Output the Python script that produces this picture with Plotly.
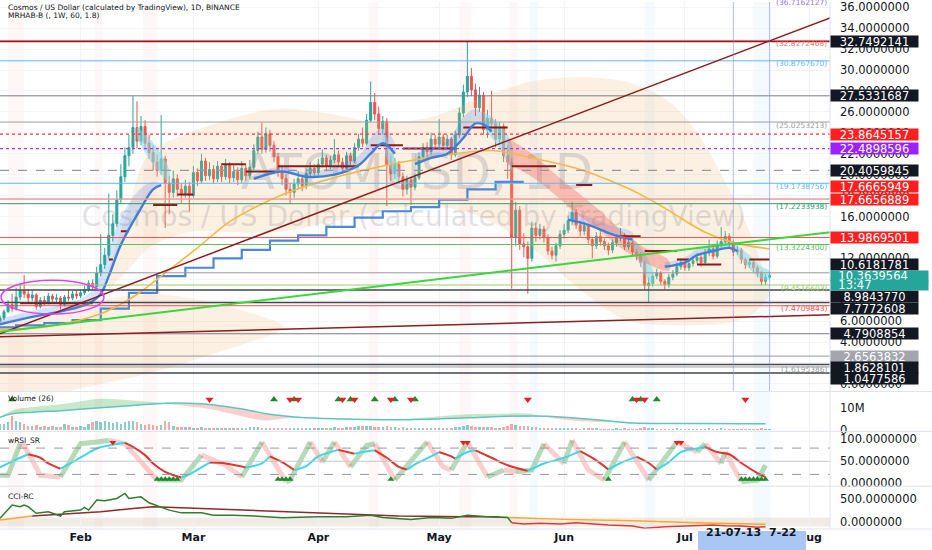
import pandas as pd
import plotly.graph_objects as go

FIRST_DAY = pd.Timestamp("2021-01-12")


def day(d):
    return FIRST_DAY + pd.Timedelta(days=d)


# ---------------------------------------------------------------- candles
# ATOM/USD 1D, 2021-01-12 .. 2021-07-22
first_open = 6.0
closes = [
    6.3, 6.9, 7.6, 7.2, 8.3, 8.9, 8.6, 8.2, 8.5, 7.4, 8.0, 7.8, 8.4, 8.1, 8.2, 7.6, 8.3, 8.2, 8.6, 8.4,
    8.7, 9.0, 9.6, 9.3, 10.6, 11.4, 12.3, 14.2, 15.3, 17.6, 19.8, 21.8, 22.6, 24.5, 23.2, 24.6, 23.0, 22.1,
    21.2, 20.4, 21.5, 19.2, 18.3, 19.6, 18.6, 18.2, 18.9, 18.0,
    20.2, 19.4, 21.3, 19.9, 20.5, 19.6, 20.8, 19.8, 20.9, 19.7, 20.3, 19.5, 20.6, 19.9, 20.7, 22.3, 23.6,
    22.4, 23.9, 22.8, 21.7, 20.2, 19.6, 18.6, 18.3, 19.1, 19.6, 18.9, 20.1, 20.6, 20.2,
    21.0, 21.6, 20.8, 21.4, 21.9, 21.2, 20.6, 21.8, 21.3, 22.6, 23.4, 23.0, 25.2, 26.9, 25.8, 24.4, 25.1,
    20.9, 20.1, 21.0, 19.8, 18.6, 19.5, 18.8, 19.7, 21.7, 22.6, 22.2, 23.4, 22.9,
    23.6, 22.8, 23.4, 21.9, 23.8, 25.9, 27.9, 29.4, 28.1, 26.4, 27.6, 24.3, 25.4, 24.9, 23.4, 24.6, 21.8,
    21.2, 14.0, 16.6, 13.4, 13.1, 12.0, 14.9, 14.2, 14.8, 14.0, 12.7, 12.3, 13.2, 14.3,
    14.7, 15.6, 16.4, 15.2, 14.6, 15.1, 13.8, 13.2, 14.1, 13.6, 13.2, 12.8, 13.5, 13.9, 14.2, 13.1, 13.5,
    12.6, 12.3, 11.6, 9.4, 9.6, 10.3, 10.6, 9.8, 9.5, 10.2, 10.5, 11.2, 11.6,
    11.1, 11.5, 11.8, 12.1, 11.6, 12.5, 12.9, 12.2, 13.3, 13.6, 14.1, 13.4, 12.6, 12.8, 11.9, 11.4, 11.6,
    11.1, 10.6, 9.8, 10.2, 10.3639564,
]
highs = [
    6.5, 7.1, 8.0, 8.6, 9.2, 9.6, 10.4, 9.0, 8.9, 8.7, 8.3, 8.4, 8.7, 8.6, 8.6, 8.4, 8.5, 9.0, 8.9, 8.9,
    9.0, 9.4, 9.9, 10.0, 11.2, 14.3, 13.0, 18.2, 16.2, 18.5, 21.0, 22.6, 23.8, 27.5, 27.0, 25.6, 25.2, 23.8,
    22.8, 21.9, 25.7, 21.8, 19.9, 20.4, 20.0, 19.2, 19.5, 19.3,
    20.8, 20.6, 22.0, 21.6, 21.2, 20.9, 21.3, 21.1, 21.5, 21.2, 20.9, 20.7, 21.3, 21.0, 21.4, 22.9, 24.1,
    25.0, 24.5, 24.3, 23.2, 22.1, 20.8, 20.0, 19.2, 19.6, 20.3, 20.0, 20.6, 21.2, 21.0,
    21.5, 22.4, 21.9, 21.8, 23.4, 22.3, 21.6, 22.2, 22.1, 23.0, 23.9, 24.5, 25.8, 28.9, 27.8, 26.5, 25.6,
    25.4, 21.8, 21.6, 21.3, 20.2, 19.9, 19.8, 20.1, 22.1, 23.0, 23.1, 24.0, 23.8,
    25.3, 23.9, 23.8, 23.6, 24.2, 26.4, 28.6, 32.75, 30.2, 28.7, 28.4, 27.9, 26.2, 28.0, 25.3, 25.0, 24.9,
    22.8, 21.6, 17.4, 17.0, 14.4, 13.6, 15.5, 15.4, 15.3, 15.1, 14.3, 13.1, 13.5, 14.7,
    15.3, 16.1, 17.4, 16.7, 15.6, 15.5, 15.3, 14.0, 14.5, 14.6, 13.9, 13.5, 13.8, 14.3, 14.9, 14.4, 13.9,
    13.7, 12.9, 12.6, 11.8, 10.2, 10.6, 11.0, 10.8, 10.0, 10.5, 10.9, 11.6, 12.0,
    11.9, 11.8, 12.2, 12.5, 12.3, 12.9, 13.8, 13.2, 13.7, 15.0, 14.6, 14.4, 13.7, 13.2, 13.0, 12.1, 11.9,
    11.8, 11.3, 10.8, 10.5, 10.6,
]
lows = [
    5.8, 6.1, 6.8, 6.9, 7.0, 8.0, 8.2, 7.8, 7.9, 7.1, 7.2, 7.5, 7.6, 7.8, 7.7, 7.1, 7.4, 7.9, 8.0, 8.1,
    8.2, 8.5, 8.8, 9.0, 9.2, 10.3, 11.0, 12.0, 13.6, 15.0, 17.2, 19.3, 20.8, 22.0, 22.5, 22.8, 22.4, 21.5,
    20.4, 19.8, 20.0, 14.9, 16.2, 17.8, 17.9, 17.3, 17.8, 16.5,
    17.8, 18.9, 19.1, 19.4, 19.5, 19.1, 19.3, 19.3, 19.5, 19.2, 19.3, 19.0, 19.2, 19.4, 19.6, 20.4, 22.0,
    22.0, 22.1, 22.2, 21.2, 19.8, 19.0, 18.0, 17.2, 17.8, 18.7, 18.4, 18.6, 19.8, 19.7,
    19.9, 20.7, 20.3, 20.5, 21.1, 20.8, 20.1, 20.4, 20.9, 21.1, 22.3, 22.6, 22.8, 25.0, 25.2, 23.9, 23.8,
    17.0, 19.4, 19.6, 19.2, 17.9, 18.1, 17.1, 18.5, 19.5, 21.3, 21.7, 21.9, 22.4,
    22.6, 22.3, 22.5, 21.4, 21.7, 23.5, 25.5, 27.4, 27.5, 25.6, 26.0, 23.8, 23.5, 24.2, 22.6, 22.9, 21.2,
    19.6, 9.1, 13.2, 12.8, 12.1, 8.6, 11.7, 13.6, 13.8, 13.5, 12.3, 11.9, 11.7, 12.9,
    13.9, 14.4, 15.2, 14.8, 14.1, 14.2, 13.4, 12.0, 12.9, 13.2, 12.8, 12.3, 12.5, 13.1, 13.6, 12.8, 12.8,
    12.2, 11.8, 11.2, 9.0, 7.78, 9.3, 10.0, 9.4, 9.0, 9.2, 9.9, 10.3, 10.9,
    10.8, 10.8, 11.2, 11.5, 11.2, 11.4, 12.2, 11.9, 12.0, 13.0, 13.3, 13.0, 12.2, 12.3, 11.5, 11.0, 11.1,
    10.7, 10.2, 9.4, 9.5, 10.0,
]
# volume in millions
volume_m = [
    2.7, 3.0, 3.5, 6.5, 4.2, 3.5, 3.0, 2.0, 1.8, 2.2, 1.5, 1.8, 1.6, 2.0, 1.4, 1.6, 2.7, 2.5, 1.6, 1.4,
    1.8, 1.5, 3.0, 3.5, 4.0, 3.8, 4.2, 3.6, 3.4, 3.5, 2.8, 3.6, 4.2, 4.0, 3.8, 3.0, 2.5, 2.7, 2.2, 2.0,
    2.4, 4.2, 3.5, 2.0, 1.5, 1.4, 1.6, 1.3,
    1.2, 1.0, 1.3, 0.9, 1.1, 0.8, 1.0, 0.9, 1.2, 0.8, 0.9, 1.0, 0.8, 0.9, 1.3, 1.5, 1.4, 1.2, 1.0, 0.9,
    1.1, 1.2, 1.0, 0.9, 0.8, 0.9, 1.0, 0.8, 0.9, 0.8, 0.9,
    0.9, 1.0, 0.8, 0.9, 1.5, 1.2, 1.1, 1.3, 1.5, 1.6, 1.8, 1.9, 1.7, 1.9, 1.6, 1.4, 1.3, 1.9, 1.5, 1.3,
    1.2, 1.4, 1.1, 1.0, 1.2, 1.1, 0.9, 1.0, 0.9, 1.1,
    1.0, 0.9, 0.8, 1.1, 1.3, 1.6, 1.9, 2.4, 1.8, 1.5, 1.3, 1.6, 1.4, 1.3, 1.1, 1.2, 1.5, 1.8, 2.7, 2.2,
    1.9, 1.7, 2.0, 1.6, 1.3, 1.0, 1.0, 1.1, 0.9, 0.8, 0.9,
    0.9, 1.0, 1.1, 0.8, 0.7, 0.8, 0.9, 1.0, 0.8, 0.7, 0.6, 0.6, 0.7, 0.8, 0.7, 0.8, 0.7, 0.6, 0.6, 0.9,
    1.3, 1.1, 0.8, 0.7, 0.6, 0.7, 0.6, 0.7, 0.8, 0.7,
    0.6, 0.6, 0.5, 0.6, 0.6, 0.7, 0.8, 0.6, 0.7, 0.9, 0.7, 0.6, 0.7, 0.6, 0.7, 0.6, 0.5, 0.6, 0.6, 0.8,
    0.7, 0.5,
]
countdown = "13:47"

# ---------------------------------------------------------------- overlays (day index from FIRST_DAY)
sma_days = [0, 12, 25, 33, 41, 49, 57, 65, 73, 81, 89, 100, 111, 122, 132, 143, 154, 160, 165, 170, 175, 182, 191]
sma_vals = [5.2, 5.5, 6.7, 8.3, 10.6, 13.0, 15.5, 17.2, 18.5, 19.5, 20.3, 21.2, 21.9, 22.3, 21.6, 20.6,
            19.0, 17.9, 16.8, 15.6, 14.5, 13.5, 12.9]

stair_days = [0, 4, 11, 18, 25, 32, 39, 46, 53, 60, 67, 74, 81, 88, 95, 102, 109, 116, 123, 130]
stair_vals = [5.4, 5.6, 5.8, 6.1, 7.2, 8.7, 10.3, 11.1, 12.0, 12.8, 13.7, 14.2, 15.0, 15.9, 16.5, 16.9,
              17.6, 18.6, 19.3, 19.3]

mrhab_days = [0, 8, 16, 22, 25, 27, 30, 35, 38, 40, None, 63, 70, 76, 83, 89, 92, 95, 98, None,
              103, 107, 111, 115, 118, 120, 122, None, 141, 146, 152, 157, None, 165, 170, 173, 177, 181, 183]
mrhab_line = [5.7, 6.4, 7.0, 7.7, 8.6, 10.3, 13.3, 16.8, 18.6, 19.0, None, 19.6, 20.3, 19.8, 20.0, 20.9,
              22.0, 23.0, 22.0, None, 21.0, 21.6, 22.0, 23.5, 24.9, 24.8, 24.1, None, 15.7, 15.2, 14.3,
              13.8, None, 11.2, 11.6, 12.3, 12.7, 13.0, 12.7]
mrhab_upper = [6.2, 7.0, 7.6, 8.6, 10.5, 12.8, 15.9, 18.7, 19.3, 19.1, None, 20.0, 20.8, 20.2, 20.8, 21.8,
               23.5, 24.5, 23.0, None, 22.0, 22.6, 23.2, 25.5, 26.3, 25.8, 24.6, None, 16.5, 16.0, 15.1,
               14.5, None, 11.6, 12.1, 12.9, 13.4, 13.6, 13.2]

fall_days = [34, 37, 40, 42, None, 95, 97, 99, None, 120, 124, 127, None, 157, 160, 162, None, 183, 186, 189, 191]
fall_hi = [24.5, 23.5, 22.0, 20.5, None, 24.5, 22.5, 20.5, None, 26.0, 24.8, 23.0, None, 14.0, 12.5, 10.8,
           None, 13.2, 12.3, 11.2, 10.8]
fall_lo = [23.5, 21.5, 20.0, 19.3, None, 23.0, 20.5, 19.0, None, 24.5, 22.5, 20.5, None, 13.0, 10.5, 9.5,
           None, 12.2, 11.0, 10.0, 10.0]

pink_days = [126, 132, 138, 143, 149, 154, 160, 166]
pink_lo = [21.0, 19.8, 18.0, 16.3, 14.6, 13.0, 11.6, 10.8]
pink_hi = [23.5, 22.0, 20.0, 18.4, 16.5, 14.7, 13.0, 11.8]

blob_days = [27, 32, 37, 47, 57, 69, 82, 94, 107, 119, 132, 144, 156, 166, 173, 180, 186, 189, 191]
blob_hi = [11.0, 17.0, 22.0, 24.0, 25.3, 26.3, 25.8, 25.0, 25.5, 27.3, 28.9, 29.3, 28.8, 27.0, 24.0, 19.3,
           14.6, 11.4, 9.0]
blob_lo = [9.0, 11.0, 13.0, 14.5, 14.5, 14.5, 15.5, 16.5, 17.0, 16.0, 13.0, 9.0, 6.0, 5.6, 5.6, 5.8, 6.5,
           7.5, 8.5]
blob2_days = [0, 12, 25, 37, 50, 62, 70]
blob2_hi = [6.0, 6.8, 8.0, 8.6, 8.0, 6.8, 5.6]
blob2_lo = [-1.0, -1.0, 0.0, 1.0, 2.5, 4.0, 5.2]

stop_start = [5, 27, 30, 38, 44, 55, 61, 69, 92, 100, 115, 127, 143, 154, 160, 168, 173, 186]
stop_end = [23, 28, 32, 44, 48, 61, 69, 89, 100, 113, 126, 138, 147, 159, 168, 171, 179, 191]
stop_level = [7.7, 11.9, 14.6, 17.1, 18.1, 21.0, 20.3, 20.8, 22.8, 22.5, 24.5, 20.8, 19.0, 14.1, 12.7,
              11.9, 11.4, 11.9]

# drawings
line_levels = [32.7492141, 27.5331687, 23.8645157, 22.4898596, 20.4059845, 17.6665949, 17.6656889,
               13.9869501, 10.6181781, 8.9843770, 7.7772608, 4.7908854, 2.6563832, 1.8628101, 1.0477586]
fib_levels = [32.8272468, 30.8767670, 25.0253213, 19.1738756, 17.2233938, 13.3224300, 9.4516603,
              7.4709843, 1.6195386]
fib_top = 36.7162127
trend_from_day = [0, 0, 0]
trend_to_day = [206, 206, 206]
trend_from = [4.79, 4.98, 4.50]
trend_to = [34.98, 14.50, 6.60]
ellipse_days = [0.25, 25.8]
ellipse_prices = [6.67, 9.9]
select_days = [182, 191]
red_strip_from = [2, 23.5, 35.5, 91.5, 114, 126.5]
red_strip_to = [6, 25.5, 39, 94, 117, 128.5]
blue_strip_from = [131.5, 160, 187]
blue_strip_to = [133.5, 162.5, 191.3]

# volume panel
volma_days = [0, 3, 8, 16, 25, 33, 41, 50, 54, 58, 62, 66, 70, 74, 83, 99, 116, 124, 132, 140, 148, 157, 170, 190]
volma_slow = [5.7, 7.3, 8.0, 8.8, 10.0, 11.0, 12.1, 11.8, 11.0, 10.0, 8.8, 7.3, 6.4, 5.7, 5.0, 4.5, 5.4,
              6.0, 6.2, 5.7, 4.5, 3.0, 2.8, 2.7]
volma_fast = [5.8, 8.8, 10.3, 11.8, 14.1, 13.3, 12.1, 10.0, 8.8, 7.0, 5.2, 4.2, 5.0, 5.7, 5.2, 4.8, 7.0,
              7.3, 7.0, 4.5, 3.5, 3.2, 2.9, 2.8]
vol_up_days = [3, 68, 73, 84, 87, 93, 98, 103, 157, 159, 163]
vol_dn_days = [52, 72, 74, 85, 88, 97, 102, 131, 158, 160, 185]

# wRSI_SR panel
rsi_slow_days = [0, 2, 5, 7, 10, 12, 15, 18, 21, 24, 27, 31, 33, 36, 38, 41, 45, 47, 50, 52, 56, 61, 65, 67,
                 70, 73, 76, 79, 84, 88, 90, 93, 96, 99, 101, 103, 107, 109, 112, 113, 116, 118, 122, 126,
                 131, 135, 140, 144, 148, 151, 154, 158, 161, 163, 166, 169, 173, 175, 178, 181, 184, 188, 190]
rsi_slow = [36, 45, 58, 66, 58, 45, 33, 48, 64, 79, 86, 92, 83, 64, 45, 26, 13, 20, 36, 47, 45, 36, 45, 61,
            48, 30, 39, 61, 76, 67, 71, 75, 58, 37, 31, 43, 61, 71, 61, 56, 71, 75, 58, 41, 28, 45, 58, 73,
            52, 31, 46, 60, 46, 31, 48, 71, 79, 83, 71, 66, 46, 23, 14]
rsi_fast_days = [0, 2, 5, 6, 10, 15, 20, 24, 27, 31, 39, 45, 50, 56, 60, 65, 71, 72, 77, 80, 83, 87, 91, 93,
                 98, 106, 110, 112, 116, 121, 125, 128, 132, 135, 140, 142, 146, 150, 155, 161, 168, 173,
                 175, 179, 180, 184, 188, 190]
rsi_fast = [18, 18, 90, 86, 18, 14, 90, 94, 98, 90, 7, 7, 64, 41, 14, 94, 3, 7, 94, 48, 94, 37, 86, 90, 7,
            94, 37, 30, 94, 14, 30, 26, 30, 90, 45, 98, 30, 7, 94, 7, 94, 71, 90, 45, 71, 3, 7, 41]
rsi_buy_days = [39, 40, 41, 42, 43, 44, 69, 70, 71, 72, 97, 151, 184, 185, 186, 187, 188, 189, 190]
rsi_sell_days = [28, 115, 116, 168, 169]

# CCI-RC panel
cci_days = [0, 3, 5, 6, 7, 9, 12, 14, 15, 16, 20, 21, 22, 24, 26, 29, 31, 32, 35, 37, 40, 42, 45, 50, 53,
            58, 63, 70, 79, 86, 92, 95, 102, 107, 112, 116, 121, 126, 127, 130, 134, 139, 143, 147, 151,
            157, 160, 165, 169, 174, 177, 180, 184, 188, 190]
cci_vals = [80, 370, 333, 370, 333, 190, 225, 150, 130, 225, 260, 319, 260, 478, 464, 515, 623, 515, 550,
            420, 333, 260, 200, 200, 150, 150, 130, 94, 116, 116, 150, 100, 58, 100, 80, 150, 116, 100,
            -15, -43, -29, -43, -15, -43, -65, -87, -137, -101, -87, -65, -65, -80, -87, -116, -101]
cci_slow_days = [0, 5, 8, 17, 25, 33, 38, 50, 66, 83, 99, 116, 124, 126, 140, 157, 173, 190]
cci_slow = [43, 101, 130, 174, 225, 297, 333, 297, 246, 188, 130, 116, 116, 101, 58, 29, -15, -51]

# ---------------------------------------------------------------- figure
dates = pd.date_range(FIRST_DAY, periods=len(closes), freq="D")
opens = [first_open] + closes[:-1]

H = 529.0  # plot height in px (550 - bottom margin)
MAIN = [1 - 391 / H, 1.0]
VOL = [1 - 431 / H, 1 - 392 / H]
RSI = [1 - 486 / H, 1 - 433 / H]
CCI = [0.0, 1 - 488 / H]

fig = go.Figure()


def add(trace):
    trace.update(hoverinfo="skip", showlegend=False)
    fig.add_trace(trace)


def polygon(xd, top, bot, color, yaxis="y", shape="linear"):
    xs = [day(d) for d in xd] + [day(d) for d in reversed(xd)]
    ys = list(top) + list(reversed(bot))
    add(go.Scatter(x=xs, y=ys, mode="lines", fill="toself", fillcolor=color,
                   line=dict(width=0, shape=shape), yaxis=yaxis))


def segments(days, *series):
    out, cur = [], []
    for row in zip(days, *series):
        if row[0] is None:
            if cur:
                out.append(cur)
            cur = []
        else:
            cur.append(row)
    if cur:
        out.append(cur)
    return [list(zip(*s)) for s in out]


def runs(n, state):
    out, cur, cur_state = [], [0], None
    for i in range(1, n):
        s = state(i)
        if cur_state is None or s == cur_state:
            cur.append(i)
        else:
            out.append((cur_state, cur))
            cur = [i - 1, i]
        cur_state = s
    out.append((cur_state, cur))
    return out


def two_colour_line(days, vals, state, col_true, col_false, width, yaxis, shape="linear"):
    for s, idx in runs(len(vals), state):
        add(go.Scatter(x=[day(days[i]) for i in idx], y=[vals[i] for i in idx], mode="lines",
                       line=dict(color=col_true if s else col_false, width=width, shape=shape),
                       yaxis=yaxis))


# background blobs
polygon(blob_days, blob_hi, blob_lo, "rgba(240,180,110,0.2)", shape="spline")
polygon(blob2_days, blob2_hi, blob2_lo, "rgba(240,180,110,0.2)", shape="spline")

# watermark
add(go.Scatter(x=[day(103.5), day(102.7)], y=[19.84, 15.74], mode="text",
               text=["ATOMUSD, 1D", "Cosmos / US Dollar (calculated by TradingView)"],
               textfont=dict(size=[50, 28], family="DejaVu Sans", color="rgba(120,123,134,0.24)"),
               yaxis="y"))

# MRHAB ribbons
for d, lo, hi in segments(mrhab_days, mrhab_line, mrhab_upper):
    polygon(d, hi, lo, "rgba(66,133,244,0.22)", shape="spline")
for d, hi, lo in segments(fall_days, fall_hi, fall_lo):
    polygon(d, hi, lo, "rgba(128,222,234,0.55)", shape="spline")
polygon(pink_days, pink_hi, pink_lo, "rgba(239,83,80,0.33)", shape="spline")

# blue staircase, SMA, stop line, MRHAB line
add(go.Scatter(x=[day(d) for d in stair_days], y=stair_vals, mode="lines",
               line=dict(color="#4a88d8", width=2.2, shape="hv"), yaxis="y"))
add(go.Scatter(x=[day(d) for d in sma_days], y=sma_vals, mode="lines",
               line=dict(color="#f5b942", width=1.6, shape="spline"), yaxis="y"))
sx, sy = [], []
for a, b, v in zip(stop_start, stop_end, stop_level):
    sx += [day(a), day(b), None]
    sy += [v, v, None]
add(go.Scatter(x=sx, y=sy, mode="lines", line=dict(color="#8b1a1a", width=2), yaxis="y"))
for d, lo, hi in segments(mrhab_days, mrhab_line, mrhab_upper):
    add(go.Scatter(x=[day(v) for v in d], y=lo, mode="lines",
                   line=dict(color="#3f7fd9", width=2.4, shape="spline"), yaxis="y"))

# candles
add(go.Candlestick(x=dates, open=opens, high=highs, low=lows, close=closes, whiskerwidth=0,
                   increasing=dict(line=dict(color="#26a69a", width=1), fillcolor="#26a69a"),
                   decreasing=dict(line=dict(color="#ef5350", width=1), fillcolor="#ef5350"),
                   yaxis="y"))

# ---- volume panel
for s, idx in runs(len(volma_days), lambda i: volma_fast[i] + volma_fast[i - 1] >= volma_slow[i] + volma_slow[i - 1]):
    polygon([volma_days[i] for i in idx], [volma_fast[i] for i in idx], [volma_slow[i] for i in idx],
            "rgba(76,175,80,0.30)" if s else "rgba(239,83,80,0.28)", yaxis="y2", shape="spline")
add(go.Scatter(x=[day(d) for d in volma_days], y=volma_slow, mode="lines",
               line=dict(color="#5cc7bd", width=1.5, shape="spline"), yaxis="y2"))
bar_cols = ["rgba(38,166,154,0.55)" if c >= o else "rgba(239,83,80,0.5)" for o, c in zip(opens, closes)]
add(go.Bar(x=dates, y=volume_m, marker=dict(color=bar_cols, line=dict(width=0)),
           width=0.62 * 86400000, yaxis="y2"))
add(go.Scatter(x=[day(d) for d in vol_up_days], y=[13.8] * len(vol_up_days), mode="markers",
               marker=dict(symbol="triangle-up", size=7, color="#1e8a2e"), yaxis="y2"))
add(go.Scatter(x=[day(d) for d in vol_dn_days], y=[13.8] * len(vol_dn_days), mode="markers",
               marker=dict(symbol="triangle-down", size=7, color="#e8201e"), yaxis="y2"))

# ---- wRSI_SR panel
two_colour_line(rsi_fast_days, rsi_fast, lambda i: rsi_fast[i] >= rsi_fast[i - 1],
                "rgba(67,160,71,0.38)", "rgba(239,83,80,0.28)", 5, "y3")
two_colour_line(rsi_slow_days, rsi_slow, lambda i: rsi_slow[i] >= rsi_slow[i - 1],
                "#3fd6e8", "#e0342f", 2, "y3", shape="spline")
add(go.Scatter(x=[day(d) for d in rsi_buy_days], y=[9] * len(rsi_buy_days), mode="markers",
               marker=dict(symbol="triangle-up", size=6, color="#1e8a2e"), yaxis="y3"))
add(go.Scatter(x=[day(d) for d in rsi_sell_days], y=[93] * len(rsi_sell_days), mode="markers",
               marker=dict(symbol="triangle-down", size=6, color="#e8201e"), yaxis="y3"))

# ---- CCI-RC panel
two_colour_line(cci_slow_days, cci_slow, lambda i: min(cci_slow[i], cci_slow[i - 1]) >= 110,
                "#8d2b2b", "#ffa726", 1.5, "y4")
two_colour_line(cci_days, cci_vals, lambda i: cci_vals[i] + cci_vals[i - 1] >= 0,
                "#2e7d32", "#e53935", 1.5, "y4")

# ---------------------------------------------------------------- shapes
shapes = []
for a, b in zip(red_strip_from, red_strip_to):
    shapes.append(dict(type="rect", xref="x", yref="paper", x0=day(a), x1=day(b), y0=0, y1=1,
                       fillcolor="rgba(242,54,69,0.04)", line=dict(width=0), layer="below"))
for a, b in zip(blue_strip_from, blue_strip_to):
    shapes.append(dict(type="rect", xref="x", yref="paper", x0=day(a), x1=day(b), y0=0, y1=1,
                       fillcolor="rgba(66,165,245,0.06)", line=dict(width=0), layer="below"))

line_colors = ["#8b1e1e", "#787b86", "#f23645", "#a03cf0", "#9598a1", "#ef9a9a", "#ef9a9a", "#ef5350",
               "#9598a1", "#434651", "#434651", "#787b86", "#9598a1", "#434651", "#434651"]
line_dash = ["solid", "solid", "dot", "dot", "dash", "solid", "solid", "solid", "solid", "solid", "solid",
             "solid", "solid", "solid", "solid"]
line_width = [2, 1, 1.2, 1.2, 1.2, 1, 1, 1, 1, 1.5, 1.5, 1, 1, 1.5, 1.5]
for v, c, ds, w in zip(line_levels, line_colors, line_dash, line_width):
    shapes.append(dict(type="line", xref="paper", yref="y", x0=0, x1=1, y0=v, y1=v,
                       line=dict(color=c, width=w, dash=ds)))
fib_colors = ["#e57373", "#64b5f6", "#9e9e9e", "#64b5f6", "#2e9e6e", "#66bb6a", "#9ccc65", "#ef5350", "#9e9e9e"]
for v, c in zip(fib_levels, fib_colors):
    shapes.append(dict(type="line", xref="paper", yref="y", x0=0, x1=1, y0=v, y1=v,
                       line=dict(color=c, width=1)))
trend_colors = ["#8b1e1e", "#3bd63b", "#8b1e1e"]
trend_widths = [1.5, 2, 1.5]
for d0, d1, v0, v1, c, w in zip(trend_from_day, trend_to_day, trend_from, trend_to, trend_colors, trend_widths):
    shapes.append(dict(type="line", xref="x", yref="y", x0=day(d0), x1=day(d1), y0=v0, y1=v1,
                       line=dict(color=c, width=w)))
shapes.append(dict(type="circle", xref="x", yref="y", x0=day(ellipse_days[0]), x1=day(ellipse_days[1]),
                   y0=ellipse_prices[0], y1=ellipse_prices[1], line=dict(color="#e040fb", width=1.5)))
for d in select_days:
    shapes.append(dict(type="line", xref="x", yref="paper", x0=day(d), x1=day(d), y0=MAIN[0], y1=1,
                       line=dict(color="rgba(121,134,230,0.55)", width=1)))
# indicator guides
for v, ds, c in [(80, "dash", "#9598a1"), (20, "dash", "#9598a1"), (50, "solid", "#c3c6ce")]:
    shapes.append(dict(type="line", xref="paper", yref="y3", x0=0, x1=1, y0=v, y1=v,
                       line=dict(color=c, width=1, dash=ds)))
shapes.append(dict(type="rect", xref="paper", yref="y4", x0=0, x1=1, y0=-100, y1=100,
                   fillcolor="rgba(200,188,160,0.28)", line=dict(width=0), layer="below"))
# panel separators and price scale border
for yp in [MAIN[0], VOL[0], RSI[0], 0]:
    shapes.append(dict(type="line", xref="paper", yref="paper", x0=0, x1=932 / 830, y0=yp, y1=yp,
                       line=dict(color="#e0e3eb", width=1)))
shapes.append(dict(type="line", xref="paper", yref="paper", x0=1, x1=1, y0=0, y1=1,
                   line=dict(color="#e0e3eb", width=1)))
# time-range highlight on the time scale
shapes.append(dict(type="rect", xref="paper", yref="paper", x0=698 / 830, x1=806 / 830,
                   y0=1 - 550 / H, y1=1 - 531 / H, fillcolor="#a9c7f5", line=dict(width=0)))

# ---------------------------------------------------------------- annotations
ann = []
small = dict(family="DejaVu Sans", size=7.5, color="#131722")
ann.append(dict(text="Cosmos / US Dollar (calculated by TradingView), 1D, BINANCE", x=6 / 830, y=1 - 6 / H))
ann.append(dict(text="MRHAB-B (, 1W, 60, 1.8)", x=6 / 830, y=1 - 14 / H))
ann.append(dict(text="Volume (26)", x=6 / 830, y=1 - 398 / H))
ann.append(dict(text="wRSI_SR", x=6 / 830, y=1 - 440 / H))
ann.append(dict(text="CCI-RC", x=6 / 830, y=1 - 496 / H))
for a in ann:
    a.update(xref="paper", yref="paper", xanchor="left", yanchor="middle", showarrow=False, font=small)

label_bg = ["#131722", "#131722", "#ff1f1f", "#9b22ff", "#131722", "#ff1f1f", "#ff1f1f", "#ff1f1f",
            "#131722", "#131722", "#131722", "#131722", "#a3a6af", "#131722", "#131722"]
label_shift = [0, 0, 0, 0, 0, 13, 0, 0, 8, -7, -5.5, 0, 0, -3.5, -5.5]
box_font = dict(family="DejaVu Sans", size=11.5, color="white")
for v, bg, sh in zip(line_levels, label_bg, label_shift):
    ann.append(dict(text=f"{v:.7f}", x=1, xref="paper", xanchor="left", y=v, yref="y", yshift=sh,
                    showarrow=False, bgcolor=bg, font=box_font, width=87, height=11, borderpad=0))
last = closes[-1]
for txt, sh in [(f"\u00a0\u00a0{last:.7f}", -0.5), (f"\u00a0\u00a0{countdown}", -9.5)]:
    ann.append(dict(text=txt, x=1, xref="paper", xanchor="left", y=last, yref="y", yshift=sh,
                    showarrow=False, bgcolor="#26a69a", font=box_font, width=97, height=10,
                    borderpad=0, align="left"))
for v, c in zip(fib_levels, fib_colors):
    ann.append(dict(text=f"({v:.7f})", x=1, xref="paper", xanchor="right", xshift=-1, y=v, yref="y",
                    yanchor="middle", yshift=-3, showarrow=False,
                    font=dict(family="DejaVu Sans", size=7.5, color=c)))
ann.append(dict(text=f"({fib_top:.7f})", x=1, xref="paper", xanchor="right", xshift=-1, y=1, yref="paper",
                yanchor="middle", showarrow=False, font=dict(family="DejaVu Sans", size=7.5, color="#9575cd")))
date_font = dict(family="DejaVu Sans", size=11, color="#131722", weight="bold")
ann.append(dict(text="21-07-13", x=day(select_days[0]), xref="x", y=1 - 541 / H, yref="paper",
                showarrow=False, font=date_font))
ann.append(dict(text="7-22", x=day(select_days[1]), xref="x", xshift=13, y=1 - 541 / H, yref="paper",
                showarrow=False, font=date_font))

tick_font = dict(family="DejaVu Sans", size=11.5, color="#131722")
yax = dict(side="right", anchor="x", zeroline=False, ticks="", tickfont=tick_font, ticklabelstandoff=9,
           ticklabeloverflow="allow", fixedrange=True)

fig.update_layout(
    width=932, height=550,
    margin=dict(l=0, r=102, t=0, b=21),
    paper_bgcolor="white", plot_bgcolor="white",
    showlegend=False, hovermode=False, bargap=0,
    xaxis=dict(type="date", range=[day(0), day(206)], anchor="y4", domain=[0, 1],
               tickformat="%b", dtick="M1", tick0="2021-01-01", ticks="", showgrid=True,
               gridcolor="#f0f3fa", zeroline=False, showline=False,
               tickfont=dict(family="DejaVu Sans", size=11, color="#131722", weight="bold"),
               rangeslider=dict(visible=False), fixedrange=True),
    yaxis=dict(domain=MAIN, range=[-0.73, 36.50], dtick=2, tick0=0, tickformat=".7f",
               showgrid=True, gridcolor="#f3f4f8", **yax),
    yaxis2=dict(domain=VOL, range=[-0.77, 16.95], tickvals=[0, 10], ticktext=["0", "10M"],
                showgrid=False, **yax),
    yaxis3=dict(domain=RSI, range=[-6.8, 113.6], tickvals=[0, 50, 100], tickformat=".7f",
                showgrid=False, **yax),
    yaxis4=dict(domain=CCI, range=[-152, 739], tickvals=[0, 500], tickformat=".7f",
                showgrid=False, **yax),
    shapes=shapes,
    annotations=ann,
)

# the page's default body margin would push the chart 8px down and right
fig.write_html("out.html", config={"displayModeBar": False},
               post_script="document.body.style.margin='0';document.body.style.overflow='hidden';")
